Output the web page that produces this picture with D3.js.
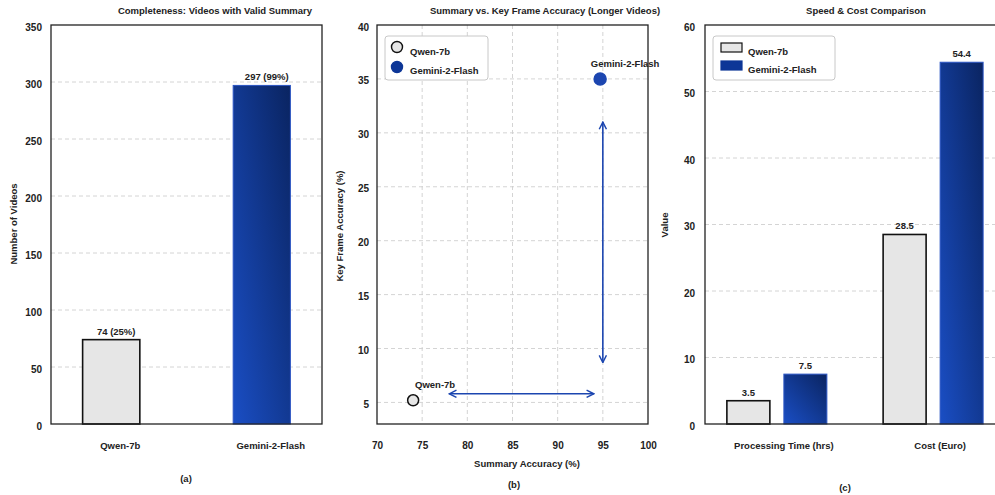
<!DOCTYPE html>
<html>
<head>
<meta charset="utf-8">
<script src="https://cdn.jsdelivr.net/npm/d3@7"></script>
<style>
  body { margin: 0; background: #fff; }
  svg text { font-family: "Liberation Sans", Arial, sans-serif; font-weight: bold; fill: #222; }
</style>
</head>
<body>
<svg width="995" height="495"></svg>
<script>
// ---- data ----
const models = ["Qwen-7b", "Gemini-2-Flash"];
const validCounts = [74, 297];
const validPct = [25, 99];
const countTicks = [0, 50, 100, 150, 200, 250, 300, 350];

const summaryAcc = [74, 94.7];
const keyFrameAcc = [5.2, 35];
const accXTicks = [70, 75, 80, 85, 90, 95, 100];
const accYTicks = [5, 10, 15, 20, 25, 30, 35, 40];
// arrows: [x1, y1, x2, y2]
const hArrow = [78, 5.8, 94, 5.8];
const vArrow = [95, 31, 95, 8.7];

const metrics = ["Processing Time (hrs)", "Cost (Euro)"];
const qwenVals = [3.5, 28.5];
const geminiVals = [7.5, 54.4];
const valueTicks = [0, 10, 20, 30, 40, 50, 60];

const grey = "#e6e6e6";
const blueDot = "#1c46b0";
const blueDark = "#0d3697";

const svg = d3.select("svg");

// gradient for the blue bars
const defs = svg.append("defs");
const grad = defs.append("linearGradient")
  .attr("id", "blueGrad")
  .attr("x1", 0).attr("y1", 1).attr("x2", 1).attr("y2", 0);
grad.append("stop").attr("offset", "0%").attr("stop-color", "#1a4ec4");
grad.append("stop").attr("offset", "100%").attr("stop-color", "#0a2461");

// arrow head
defs.append("marker")
  .attr("id", "arrowHead")
  .attr("viewBox", "0 0 10 10")
  .attr("refX", 9).attr("refY", 5)
  .attr("markerWidth", 9).attr("markerHeight", 9)
  .attr("markerUnits", "userSpaceOnUse")
  .attr("orient", "auto-start-reverse")
  .append("path")
  .attr("d", "M1,1 L9,5 L1,9")
  .attr("fill", "none")
  .attr("stroke", blueDot)
  .attr("stroke-width", 1.6);

// helpers
function grid(g, scale, ticks, x0, x1, vertical) {
  g.selectAll(null).data(ticks).enter().append("line")
    .attr("x1", d => vertical ? scale(d) : x0)
    .attr("x2", d => vertical ? scale(d) : x1)
    .attr("y1", d => vertical ? x0 : scale(d))
    .attr("y2", d => vertical ? x1 : scale(d))
    .attr("stroke", "#cfcfcf")
    .attr("stroke-width", 0.9)
    .attr("stroke-dasharray", "4,3");
}

function yTicks(g, scale, ticks, x) {
  const axis = d3.axisLeft(scale).tickValues(ticks).tickSize(0).tickPadding(0);
  const a = g.append("g").attr("transform", `translate(${x},0)`).call(axis);
  a.select(".domain").remove();
  a.selectAll("text").attr("font-size", 10).attr("dy", "0.5em");
}

function frame(g, x0, y0, x1, y1) {
  g.append("rect")
    .attr("x", x0).attr("y", y0)
    .attr("width", x1 - x0).attr("height", y1 - y0)
    .attr("fill", "none")
    .attr("stroke", "#222")
    .attr("stroke-width", 1.3);
}

function label(g, text, x, y, size, rotate) {
  const t = g.append("text").text(text)
    .attr("text-anchor", "middle")
    .attr("font-size", size || 10);
  if (rotate) t.attr("transform", `translate(${x},${y}) rotate(-90)`);
  else t.attr("x", x).attr("y", y);
  return t;
}

// ---------- panel (a) ----------
const pa = { left: 51, right: 322, top: 25, bottom: 424 };
const ga = svg.append("g");
const xa = d3.scalePoint().domain(models).range([pa.left, pa.right]).padding(0.4);
const ya = d3.scaleLinear().domain([0, 350]).range([pa.bottom, pa.top]);

grid(ga, ya, countTicks.slice(1, -1), pa.left, pa.right, false);
const barWa = xa.step() * 0.38;
ga.selectAll(".barA").data(models).enter().append("rect")
  .attr("x", d => xa(d) - barWa / 2)
  .attr("y", (d, i) => ya(validCounts[i]))
  .attr("width", barWa)
  .attr("height", (d, i) => ya(0) - ya(validCounts[i]))
  .attr("fill", (d, i) => i === 0 ? grey : "url(#blueGrad)")
  .attr("stroke", (d, i) => i === 0 ? "#111" : "#2b55c4")
  .attr("stroke-width", (d, i) => i === 0 ? 1.6 : 1);
ga.selectAll(".valA").data(models).enter().append("text")
  .attr("x", d => xa(d) + 5)
  .attr("y", (d, i) => ya(validCounts[i]) - 5)
  .attr("text-anchor", "middle").attr("font-size", 9.5)
  .text((d, i) => `${validCounts[i]} (${validPct[i]}%)`);
frame(ga, pa.left, pa.top, pa.right, pa.bottom);
yTicks(ga, ya, countTicks, pa.left - 9);
ga.selectAll(".catA").data(models).enter().append("text")
  .attr("x", d => xa(d) + 9)
  .attr("y", 449)
  .attr("text-anchor", "middle").attr("font-size", 9.5)
  .text(d => d);
label(ga, "Completeness: Videos with Valid Summary", 215, 14, 9.5);
label(ga, "Number of Videos", 17, 224, 9.5, true);
label(ga, "(a)", 186, 482, 9.5);

// ---------- panel (b) ----------
const pb = { left: 377, right: 648, top: 25, bottom: 424 };
const gb = svg.append("g");
const xb = d3.scaleLinear().domain([70, 100]).range([pb.left, pb.right]);
const yb = d3.scaleLinear().domain([3, 40]).range([pb.bottom, pb.top]);

grid(gb, xb, accXTicks.slice(1, -1), pb.top, pb.bottom, true);
grid(gb, yb, accYTicks.slice(0, -1), pb.left, pb.right, false);

[hArrow, vArrow].forEach(a => {
  gb.append("line")
    .attr("x1", xb(a[0])).attr("y1", yb(a[1]))
    .attr("x2", xb(a[2])).attr("y2", yb(a[3]))
    .attr("stroke", blueDot).attr("stroke-width", 1.6)
    .attr("marker-start", "url(#arrowHead)")
    .attr("marker-end", "url(#arrowHead)");
});

gb.selectAll(".pt").data(models).enter().append("circle")
  .attr("cx", (d, i) => xb(summaryAcc[i]))
  .attr("cy", (d, i) => yb(keyFrameAcc[i]))
  .attr("r", (d, i) => i === 0 ? 5.5 : 6)
  .attr("fill", (d, i) => i === 0 ? grey : blueDot)
  .attr("stroke", (d, i) => i === 0 ? "#111" : blueDot)
  .attr("stroke-width", 1.5);
gb.selectAll(".ptLab").data(models).enter().append("text")
  .attr("x", (d, i) => xb(summaryAcc[i]) + (i === 0 ? 22 : 25))
  .attr("y", (d, i) => yb(keyFrameAcc[i]) - 12)
  .attr("text-anchor", "middle").attr("font-size", 9.5)
  .text(d => d);

frame(gb, pb.left, pb.top, pb.right, pb.bottom);
yTicks(gb, yb, accYTicks, pb.left - 8);
const xAxisB = gb.append("g").attr("transform", `translate(0,${pb.bottom + 18})`)
  .call(d3.axisBottom(xb).tickValues(accXTicks).tickSize(0).tickPadding(0));
xAxisB.select(".domain").remove();
xAxisB.selectAll("text").attr("font-size", 10);

// legend (b)
const lb = gb.append("g").attr("transform", "translate(385,36)");
lb.append("rect").attr("width", 103).attr("height", 44).attr("rx", 3)
  .attr("fill", "#fff").attr("stroke", "#c8c8c8");
models.forEach((m, i) => {
  lb.append("circle").attr("cx", 12).attr("cy", 11 + i * 20).attr("r", 5.5)
    .attr("fill", i === 0 ? grey : blueDark)
    .attr("stroke", i === 0 ? "#111" : blueDark).attr("stroke-width", 1.4);
  lb.append("text").attr("x", 25).attr("y", 19 + i * 19).attr("font-size", 9.5).text(m);
});

label(gb, "Summary vs. Key Frame Accuracy (Longer Videos)", 545, 14, 9.5);
label(gb, "Summary Accuracy (%)", 527, 467, 9.5);
label(gb, "Key Frame Accuracy (%)", 343, 226, 9.5, true);
label(gb, "(b)", 514, 488, 9.5);

// ---------- panel (c) ----------
const pc = { left: 705, right: 1005, top: 25, bottom: 424 };
const gc = svg.append("g");
const xc = d3.scalePoint().domain(metrics).range([pc.left, pc.right]).padding(0.46);
const xSub = d3.scaleBand().domain(models).range([-50, 50]).paddingInner(0.246);
const yc = d3.scaleLinear().domain([0, 60]).range([pc.bottom, pc.top]);

grid(gc, yc, valueTicks.slice(1, -1), pc.left, pc.right, false);

const series = [qwenVals, geminiVals];
models.forEach((m, s) => {
  gc.selectAll(null).data(metrics).enter().append("rect")
    .attr("x", d => xc(d) + xSub(m))
    .attr("y", (d, i) => yc(series[s][i]))
    .attr("width", xSub.bandwidth())
    .attr("height", (d, i) => yc(0) - yc(series[s][i]))
    .attr("fill", s === 0 ? grey : "url(#blueGrad)")
    .attr("stroke", s === 0 ? "#111" : "#2b55c4")
    .attr("stroke-width", s === 0 ? 1.6 : 1);
  gc.selectAll(null).data(metrics).enter().append("text")
    .attr("x", d => xc(d) + xSub(m) + xSub.bandwidth() / 2)
    .attr("y", (d, i) => yc(series[s][i]) - 5)
    .attr("text-anchor", "middle").attr("font-size", 9.5)
    .text((d, i) => series[s][i]);
});

frame(gc, pc.left, pc.top, pc.right, pc.bottom);
yTicks(gc, yc, valueTicks, pc.left - 10);
gc.selectAll(".catC").data(metrics).enter().append("text")
  .attr("x", d => xc(d) + 7)
  .attr("y", 449)
  .attr("text-anchor", "middle").attr("font-size", 9.5)
  .text(d => d);

// legend (c)
const lc = gc.append("g").attr("transform", "translate(713,36)");
lc.append("rect").attr("width", 122).attr("height", 44).attr("rx", 3)
  .attr("fill", "#fff").attr("stroke", "#c8c8c8");
models.forEach((m, i) => {
  lc.append("rect").attr("x", 8).attr("y", 7 + i * 18).attr("width", 21).attr("height", 9)
    .attr("fill", i === 0 ? grey : blueDark)
    .attr("stroke", i === 0 ? "#111" : blueDark).attr("stroke-width", 1.2);
  lc.append("text").attr("x", 35).attr("y", 19 + i * 18).attr("font-size", 9.5).text(m);
});

label(gc, "Speed & Cost Comparison", 866, 14, 9.5);
label(gc, "Value", 668, 225, 9.5, true);
label(gc, "(c)", 845, 491, 9.5);
</script>
</body>
</html>
